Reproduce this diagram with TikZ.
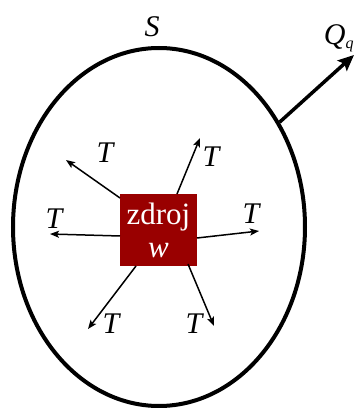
\documentclass[tikz,border=0pt]{standalone}
\usepackage{fontspec}
\setmainfont{Liberation Serif}
\usetikzlibrary{arrows.meta,shapes.geometric}
\definecolor{srcred}{HTML}{990000}
\begin{document}
\begin{tikzpicture}[x=1pt,y=1pt,
  lbl/.style={font=\fontsize{30}{32}\selectfont\itshape, inner sep=0pt},
  flux/.style={line width=1.5pt, -{Stealth[length=9pt,width=7pt,inset=2pt]}},
  heat/.style={line width=3.5pt, -{Stealth[length=16pt,width=14pt,inset=3pt]}}]
\useasboundingbox (0,0) rectangle (359,408);
\node[draw, line width=4pt, ellipse, minimum width=292pt, minimum height=358pt, inner sep=0pt] (S) at (159,181) {};
\node[fill=srcred, text=white, minimum width=77pt, minimum height=72pt, inner sep=0pt,
  align=center, font=\fontsize{31}{35}\selectfont] (src) at (158.5,178) {zdroj\\[-2pt]\textit{w}};
% arrow start and end points
\coordinate (ulS) at (120,210); \coordinate (ulE) at (66,248);
\coordinate (urS) at (177,214); \coordinate (urE) at (200,270);
\coordinate (rS) at (197,170);  \coordinate (rE) at (259,177);
\coordinate (lS) at (120,172);  \coordinate (lE) at (50,174);
\coordinate (llS) at (136,142); \coordinate (llE) at (88,79);
\coordinate (lrS) at (188,144); \coordinate (lrE) at (214,82);
\coordinate (qE) at (354,353);
\draw[flux] (ulS) -- (ulE);
\draw[flux] (urS) -- (urE);
\draw[flux] (rS) -- (rE);
\draw[flux] (lS) -- (lE);
\draw[flux] (llS) -- (llE);
\draw[flux] (lrS) -- (lrE);
\draw[heat] (S.41.5) -- (qE);
\node[lbl] (t1) at (105,255) {T};
\node[lbl] (t2) at (211,251) {T};
\node[lbl] (t3) at (251,194) {T};
\node[lbl] (t4) at (54,189) {T};
\node[lbl] (t5) at (111,84) {T};
\node[lbl] (t6) at (194,84) {T};
\node[lbl] (sl) at (152,381) {S};
\node[lbl] (ql) at (339,370) {Q\textsubscript{\fontsize{16}{16}\selectfont q}};
\end{tikzpicture}
\end{document}
